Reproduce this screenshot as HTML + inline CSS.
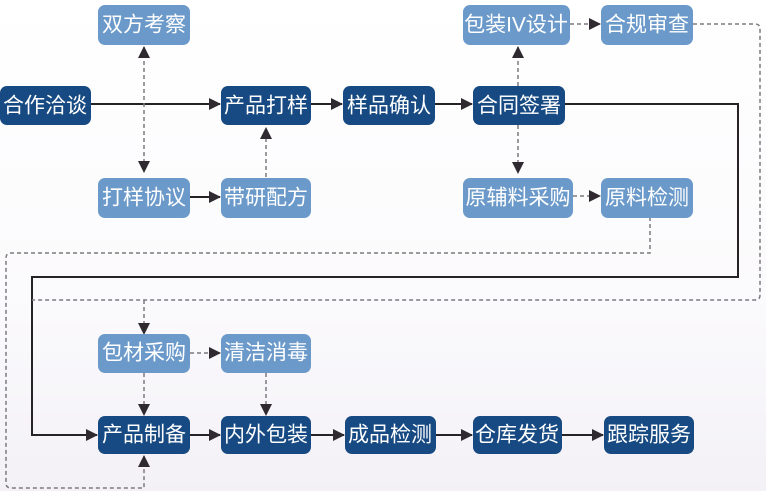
<!DOCTYPE html>
<html><head><meta charset="utf-8"><style>
html,body{margin:0;padding:0;}
body{width:766px;height:491px;overflow:hidden;background:linear-gradient(180deg,#ffffff 0%,#fbfafc 60%,#f3f1f6 100%);}
text{font-family:"Liberation Sans","Noto Sans CJK SC",sans-serif;font-size:21px;fill:#fff;text-anchor:middle;dominant-baseline:central;}
</style></head><body>
<svg width="766" height="491" viewBox="0 0 766 491" xmlns="http://www.w3.org/2000/svg">
<defs>
<marker id="a" markerWidth="12" markerHeight="12" refX="11" refY="6" orient="auto" markerUnits="userSpaceOnUse"><path d="M0,0 L12,6 L0,12 z" fill="#2e2a30"/></marker>
<marker id="as" markerWidth="12" markerHeight="12" refX="1" refY="6" orient="auto" markerUnits="userSpaceOnUse"><path d="M12,0 L0,6 L12,12 z" fill="#2e2a30"/></marker>
</defs>
<g fill="none" stroke="#262226" stroke-width="2">
<line x1="91" y1="104" x2="220" y2="104" marker-end="url(#a)"/>
<line x1="311" y1="104" x2="342" y2="104" marker-end="url(#a)"/>
<line x1="435" y1="104" x2="472" y2="104" marker-end="url(#a)"/>
<line x1="190" y1="197" x2="220" y2="197" marker-end="url(#a)"/>
<polyline points="565,104 738,104 738,277 32,277 32,435 97,435" marker-end="url(#a)"/>
<line x1="190" y1="435" x2="220" y2="435" marker-end="url(#a)"/>
<line x1="311" y1="435" x2="344" y2="435" marker-end="url(#a)"/>
<line x1="436" y1="435" x2="472" y2="435" marker-end="url(#a)"/>
<line x1="562" y1="435" x2="603" y2="435" marker-end="url(#a)"/>
</g>
<g fill="none" stroke="#7d7a80" stroke-width="1.5" stroke-dasharray="4,3">
<line x1="144" y1="47" x2="144" y2="172" marker-start="url(#as)" marker-end="url(#a)"/>
<line x1="266" y1="177" x2="266" y2="128" marker-end="url(#a)"/>
<line x1="518" y1="86" x2="518" y2="47" marker-end="url(#a)"/>
<line x1="518" y1="125" x2="518" y2="173" marker-end="url(#a)"/>
<line x1="570" y1="24" x2="600" y2="24" marker-end="url(#a)"/>
<line x1="573" y1="196" x2="600" y2="196" marker-end="url(#a)"/>
<path d="M693,24 H755 Q760,24 760,29 V295 Q760,300 755,300 H32"/>
<line x1="144" y1="300" x2="144" y2="334" marker-end="url(#a)"/>
<path d="M650,217 V253 H11 Q6,253 6,258 V483 Q6,488 11,488 H144 V456" marker-end="url(#a)"/>
<line x1="190" y1="353" x2="220" y2="353" marker-end="url(#a)"/>
<line x1="144" y1="373" x2="144" y2="415" marker-end="url(#a)"/>
<line x1="266" y1="373" x2="266" y2="415" marker-end="url(#a)"/>
</g>
<g fill="#6b9aca">
<rect x="98" y="5" width="92" height="40" rx="7"/>
<rect x="98" y="178" width="92" height="40" rx="7"/>
<rect x="221" y="178" width="90" height="40" rx="7"/>
<rect x="463" y="5" width="107" height="40" rx="7"/>
<rect x="601" y="5" width="92" height="40" rx="7"/>
<rect x="463" y="178" width="110" height="40" rx="7"/>
<rect x="601" y="178" width="92" height="40" rx="7"/>
<rect x="98" y="334" width="92" height="39" rx="7"/>
<rect x="221" y="334" width="90" height="39" rx="7"/>
</g>
<g fill="#174a82">
<rect x="0" y="86" width="91" height="39" rx="7"/>
<rect x="221" y="86" width="90" height="39" rx="7"/>
<rect x="343" y="86" width="92" height="39" rx="7"/>
<rect x="473" y="86" width="92" height="39" rx="7"/>
<rect x="98" y="416" width="92" height="38" rx="7"/>
<rect x="221" y="416" width="90" height="38" rx="7"/>
<rect x="345" y="416" width="91" height="38" rx="7"/>
<rect x="473" y="416" width="89" height="38" rx="7"/>
<rect x="604" y="416" width="90" height="38" rx="7"/>
</g>
<text x="144" y="25">双方考察</text>
<text x="144" y="198">打样协议</text>
<text x="266" y="198">带研配方</text>
<text x="516" y="25">包装IV设计</text>
<text x="647" y="25">合规审查</text>
<text x="518" y="198">原辅料采购</text>
<text x="647" y="198">原料检测</text>
<text x="144" y="353">包材采购</text>
<text x="266" y="353">清洁消毒</text>
<text x="45" y="106">合作洽谈</text>
<text x="266" y="106">产品打样</text>
<text x="389" y="106">样品确认</text>
<text x="519" y="106">合同签署</text>
<text x="144" y="435">产品制备</text>
<text x="266" y="435">内外包装</text>
<text x="390" y="435">成品检测</text>
<text x="517" y="435">仓库发货</text>
<text x="649" y="435">跟踪服务</text>
</svg>
</body></html>
